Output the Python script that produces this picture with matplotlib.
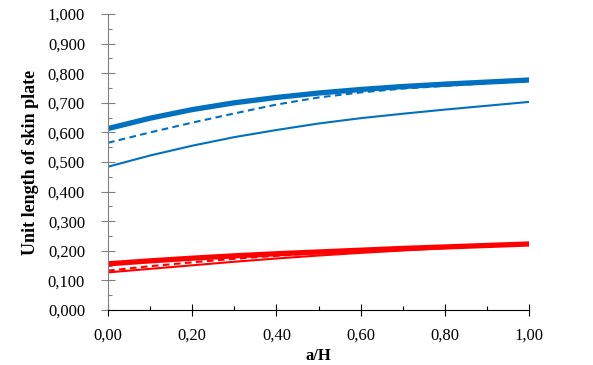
import matplotlib
matplotlib.use("Agg")
import matplotlib.pyplot as plt
from matplotlib.ticker import MultipleLocator, FuncFormatter

a = [0.0, 0.1, 0.2, 0.3, 0.4, 0.5, 0.6, 0.7, 0.8, 0.9, 1.0]
blue_thick = [0.613, 0.648, 0.677, 0.700, 0.718, 0.733, 0.745, 0.755, 0.763, 0.770, 0.777]
blue_dashed = [0.565, 0.600, 0.633, 0.664, 0.694, 0.718, 0.735, 0.748, 0.757, 0.766, 0.774]
blue_thin = [0.484, 0.522, 0.555, 0.584, 0.608, 0.630, 0.648, 0.663, 0.677, 0.690, 0.703]
red_thick = [0.156, 0.166, 0.175, 0.183, 0.190, 0.196, 0.202, 0.208, 0.213, 0.218, 0.223]
red_dashed = [0.133, 0.148, 0.161, 0.173, 0.183, 0.192, 0.199, 0.205, 0.211, 0.217, 0.222]
red_thin = [0.127, 0.139, 0.151, 0.163, 0.174, 0.184, 0.193, 0.201, 0.209, 0.216, 0.223]

BLUE = "#0070C0"
RED = "#FF0000"

plt.rcParams['font.family'] = ['Liberation Serif', 'DejaVu Serif']

fig = plt.figure(figsize=(5.93, 3.65), dpi=100)
ax = fig.add_axes([108 / 593, 1 - 310 / 365, 421 / 593, 296 / 365])

ax.plot(a, blue_thin, color=BLUE, lw=1.5)
ax.plot(a, blue_dashed, color=BLUE, lw=1.5, dashes=(3.2, 2.1))
ax.plot(a, blue_thick, color=BLUE, lw=3.8)
ax.plot(a, red_thin, color=RED, lw=1.5)
ax.plot(a, red_dashed, color=RED, lw=1.5, dashes=(3.2, 2.1))
ax.plot(a, red_thick, color=RED, lw=3.8)

ax.set_xlim(0, 1)
ax.set_ylim(0, 1)
ax.xaxis.set_major_locator(MultipleLocator(0.2))
ax.xaxis.set_minor_locator(MultipleLocator(0.1))
ax.yaxis.set_major_locator(MultipleLocator(0.1))
ax.yaxis.set_minor_locator(MultipleLocator(0.05))
ax.xaxis.set_major_formatter(FuncFormatter(lambda v, p: f"{v:.2f}".replace('.', ',')))
ax.yaxis.set_major_formatter(FuncFormatter(lambda v, p: f"{v:.3f}".replace('.', ',')))

for s in ['top', 'right']:
    ax.spines[s].set_visible(False)
ax.spines['left'].set_color('#808080')
ax.spines['bottom'].set_color('black')

ax.tick_params(axis='x', which='major', direction='inout', length=8.6, width=0.8, colors='black', labelsize=12, pad=8.4)
ax.tick_params(axis='x', which='minor', direction='in', length=3.1, width=0.8, colors='black')
ax.tick_params(axis='y', which='major', direction='inout', length=9.4, width=0.8, colors='#808080', labelcolor='black', labelsize=12, pad=11.8)
ax.tick_params(axis='y', which='minor', direction='in', length=3.1, width=0.8, colors='#808080')

ax.set_xlabel("a/H", fontsize=12, fontweight='bold')
ax.set_ylabel("Unit length of skin plate", fontsize=13, fontweight='bold')
ax.xaxis.set_label_coords(0.5, (310 - 348) / 296)
ax.yaxis.set_label_coords((39 - 108) / 421, 0.5)

fig.savefig("out.png", dpi=100)
